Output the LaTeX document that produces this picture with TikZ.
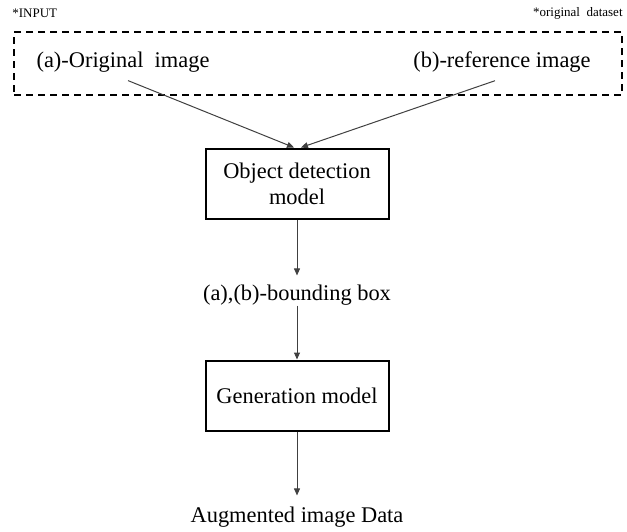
\documentclass[tikz,border=0pt]{standalone}
\usepackage{fontspec}
\setmainfont{Liberation Serif}
\usetikzlibrary{arrows.meta}
\tikzset{
  stage/.style={draw, line width=1pt, minimum width=91.5pt, minimum height=35pt,
    align=center, font=\fontsize{11.2}{13}\selectfont},
  result/.style={inner sep=3pt, font=\fontsize{11.2}{13}\selectfont},
  note/.style={inner sep=0pt, font=\fontsize{6.5}{8}\selectfont},
  link/.style={draw=black!75, line width=0.5pt, -{Triangle[length=3.5pt,width=3pt]}}
}
\begin{document}
\begin{tikzpicture}[x=0.5pt,y=-0.5pt]
    \useasboundingbox (0,0) rectangle (627,531);

    % input frame
    \node[note, anchor=west] (inp) at (12,13) {*INPUT};
    \node[note, anchor=east] (src) at (623,13) {*original\ \ dataset};
    \node[draw, dash pattern=on 3.5pt off 2.5pt, line width=0.9pt,
          minimum width=304pt, minimum height=31.5pt] (input) at (318,63.5) {};
    \node[result] (orig) at (123,62) {(a)-Original\ \ image};
    \node[result] (ref) at (502,62) {(b)-reference image};

    % pipeline
    \node[stage] (det) at (297,183.5) {Object detection\\model};
    \node[result] (bbox) at (297,295) {(a),(b)-bounding box};
    \node[stage] (gen) at (297,395.5) {Generation model};
    \node[result] (aug) at (297,517) {Augmented image Data};

    \draw[link] ([shift={(2.5pt,-1pt)}]orig.south) -- ([xshift=-1.5pt]det.north);
    \draw[link] ([shift={(-3.5pt,-1pt)}]ref.south) -- ([xshift=2pt]det.north);

    \foreach \u/\v/\a/\b in {%
        det/bbox/0/1.5,
        bbox/gen/-3/0,
        gen/aug/0/2.5%
        }{
        \draw[link, shorten <=\a pt, shorten >=\b pt] (\u) -- (\v);
    }
\end{tikzpicture}
\end{document}
